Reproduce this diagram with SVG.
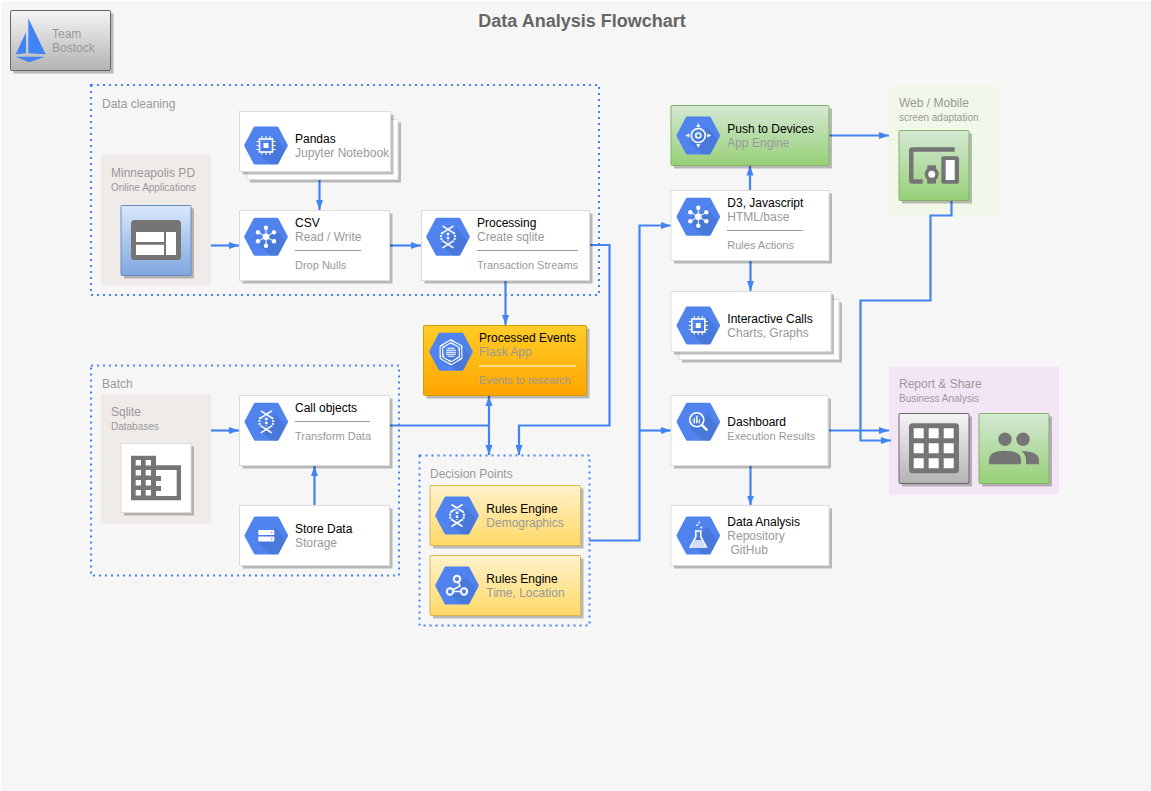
<svg xmlns="http://www.w3.org/2000/svg" width="1151" height="791" viewBox="0 0 1151 791">
<style>
text{font-family:"Liberation Sans",Arial,sans-serif;font-size:12px;fill:#999}
.t{fill:#000}
.s{font-size:11px}
.m{font-size:10px}
.ttl{font-size:18px;font-weight:bold;fill:#666}
.card{fill:#fff;stroke:#ddd;stroke-width:1}
.shadow{fill:#000;opacity:.25;stroke:none}
.zone{fill:none;stroke:#4284f3;stroke-width:2;stroke-dasharray:2 4}
.conn{fill:none;stroke:#4284f3;stroke-width:2.200}
.arrow{marker-end:url(#ah)}
.rule{stroke:#999;stroke-width:1}
.ic{fill:#757575}
.w{fill:#fff}
.wl{fill:none;stroke:#fff;stroke-width:1.6}
</style>
<defs>
<linearGradient id="gGrey" x1="0" y1="0" x2="0" y2="1"><stop offset="0" stop-color="#f5f5f5"/><stop offset="1" stop-color="#b3b3b3"/></linearGradient>
<linearGradient id="gBlue" x1="0" y1="0" x2="0" y2="1"><stop offset="0" stop-color="#dae8fc"/><stop offset="1" stop-color="#7ea6e0"/></linearGradient>
<linearGradient id="gGreen" x1="0" y1="0" x2="0" y2="1"><stop offset="0" stop-color="#d5e8d4"/><stop offset="1" stop-color="#97d077"/></linearGradient>
<linearGradient id="gYellow" x1="0" y1="0" x2="0" y2="1"><stop offset="0" stop-color="#fff2cc"/><stop offset="1" stop-color="#ffd966"/></linearGradient>
<linearGradient id="gOrange" x1="0" y1="0" x2="0" y2="1"><stop offset="0" stop-color="#ffcd28"/><stop offset="1" stop-color="#ffa500"/></linearGradient>
<marker id="ah" markerUnits="userSpaceOnUse" markerWidth="11" markerHeight="8" refX="10" refY="4" orient="auto"><path d="M0 0.500L10 4L0 7.500Z" fill="#4284f3"/></marker>
<g id="hex">
<path d="M11 0.500H33Q34 0.500 34.500 1.500L43.500 18.500Q44 19.500 43.500 20.500L34.500 37.500Q34 38.500 33 38.500H11Q10 38.500 9.500 37.500L0.500 20.500Q0 19.500 0.500 18.500L9.500 1.500Q10 0.500 11 0.500Z" fill="#5083ee"/>
<path d="M31 11L41.300 23.500L34.500 37.500Q34 38.500 33 38.500H27L14 27Z" fill="#000" opacity=".08"/>
</g>
<g id="chip"><rect x="15.500" y="13" width="13" height="13" class="wl"/><rect x="19.500" y="17" width="5" height="5" class="w"/><path d="M18 10v3M22 10v3M26 10v3M18 26v3M22 26v3M26 26v3M12.500 15.500h3M12.500 19.500h3M12.500 23.500h3M28.500 15.500h3M28.500 19.500h3M28.500 23.500h3" stroke="#fff" stroke-width="1"/></g>
<g id="hub"><path d="M22 19.500L22 10M22 19.500L14 15M22 19.500L30 15M22 19.500L14 24M22 19.500L30 24M22 19.500V29" stroke="#fff" stroke-width="1"/><circle cx="22" cy="19.500" r="3.300" class="w"/><circle cx="22" cy="10.500" r="2.200" class="w"/><circle cx="14" cy="15" r="2.200" class="w"/><circle cx="30" cy="15" r="2.200" class="w"/><circle cx="14" cy="24" r="2.200" class="w"/><circle cx="30" cy="24" r="2.200" class="w"/><circle cx="22" cy="28.500" r="2.200" class="w"/></g>
<g id="flow"><path d="M16.500 8.500L27.500 15.500M27.500 8.500L16.500 15.500M16.500 30.500L27.500 23.500M27.500 30.500L16.500 23.500" class="wl" stroke-width="1.800"/><path d="M16.500 15Q13.500 19.500 16.500 24M27.500 15Q30.500 19.500 27.500 24" fill="none" stroke="#fff" stroke-width="2" stroke-dasharray="2 1"/><path d="M22 15.500V24" stroke="#fff" stroke-width="2.400" stroke-dasharray="2.400 1.600"/></g>
<path id="blade" d="M22 7.500L32.500 13.500V17M22 10.500L30 15V18" fill="none" stroke="#fff" stroke-width="1.100"/>
</defs>

<rect x="0" y="0" width="1151" height="791" fill="#fff"/>
<rect x="1" y="1" width="1150" height="790" fill="#f6f6f6"/>
<text class="ttl" x="582" y="27" text-anchor="middle">Data Analysis Flowchart</text>

<g id="logo">
<rect x="13.500" y="13.500" width="100" height="60" class="shadow"/>
<rect x="10.500" y="10.500" width="100" height="60" rx="1.500" fill="url(#gGrey)" stroke="#666"/>
<path d="M28.300 18.300L45.700 54.300L28.300 53.300ZM26 32.300V53.300L15.700 54.300ZM15.700 56.700H45L29.300 62.300Z" fill="#4284f3"/>
<text x="52" y="38">Team</text><text x="52" y="52">Bostock</text>
</g>

<g id="zone-cleaning"><rect x="91" y="85" width="508" height="210" class="zone"/><text x="102" y="108">Data cleaning</text></g>
<g id="zone-batch"><rect x="91" y="365.500" width="308" height="210" class="zone"/><text x="102" y="388">Batch</text></g>
<g id="zone-decision"><rect x="419.500" y="455.500" width="170" height="170" class="zone"/><text x="430" y="478">Decision Points</text></g>

<g id="panel-minneapolis"><rect x="101" y="155" width="110" height="130" rx="1" fill="#efebe9"/><text x="111" y="177">Minneapolis PD</text><text class="m" x="111" y="191">Online Applications</text></g>
<g id="panel-sqlite"><rect x="101" y="394" width="110" height="130" rx="1" fill="#efebe9"/><text x="111" y="416">Sqlite</text><text class="m" x="111" y="430">Databases</text></g>
<g id="panel-web"><rect x="889" y="85" width="110" height="130.500" rx="1" fill="#f1f8e9"/><text x="899" y="107">Web / Mobile</text><text class="m" x="899" y="121">screen adaptation</text></g>
<g id="panel-report"><rect x="889" y="366.500" width="170" height="128" rx="1" fill="#f3e5f5"/><text x="899" y="388">Report &amp; Share</text><text class="m" x="899" y="402">Business Analysis</text></g>

<g id="connectors">
<path class="conn arrow" d="M319.500 180V210"/>
<path class="conn arrow" d="M211 245.500H239"/>
<path class="conn arrow" d="M390 245.500H421"/>
<path class="conn arrow" d="M505.500 281V325"/>
<path class="conn arrow" d="M589 245H609.500V425.500H519V455"/>
<path class="conn" d="M390 425.500H489"/>
<path class="conn arrow" d="M489 425.500V396"/>
<path class="conn arrow" d="M489 425.500V455"/>
<path class="conn arrow" d="M211 430.500H239"/>
<path class="conn arrow" d="M314.500 505.500V466"/>
<path class="conn arrow" d="M589 540.500H639.500V225.500H671"/>
<path class="conn arrow" d="M639.500 430.500H671"/>
<path class="conn arrow" d="M750 190.500V165.500"/>
<path class="conn arrow" d="M750.500 261V291"/>
<path class="conn arrow" d="M750.500 466V505.500"/>
<path class="conn arrow" d="M829 430.500H889"/>
<path class="conn arrow" d="M829 135.500H889"/>
<path class="conn arrow" d="M951.500 201V215.500H930.500V300.500H860.500V440.500H891"/>
</g>

<g id="node-pandas">
<rect x="250" y="122.500" width="151" height="60" class="shadow"/>
<rect x="247" y="119.500" width="151" height="60" class="card"/>
<rect x="242.500" y="114.500" width="151" height="60" class="shadow"/>
<rect x="239.500" y="111.500" width="151" height="60" class="card"/>
<use href="#hex" x="244" y="126"/><use href="#chip" x="244" y="126"/>
<text class="t" x="295" y="143">Pandas</text><text x="295" y="157">Jupyter Notebook</text>
</g>

<g id="node-csv">
<rect x="242.500" y="213.500" width="150" height="70" class="shadow"/>
<rect x="239.500" y="210.500" width="150" height="70" class="card"/>
<use href="#hex" x="244" y="217.300"/><use href="#hub" x="244" y="217.300"/>
<text class="t" x="295" y="227">CSV</text><text x="295" y="241">Read / Write</text>
<path class="rule" d="M295 250.500H361"/><text class="s" x="295" y="269">Drop Nulls</text>
</g>

<g id="node-processing">
<rect x="424.500" y="213.500" width="168" height="70" class="shadow"/>
<rect x="421.500" y="210.500" width="168" height="70" class="card"/>
<use href="#hex" x="426" y="217.300"/><use href="#flow" x="426" y="217.300"/>
<text class="t" x="477" y="227">Processing</text><text x="477" y="241">Create sqlite</text>
<path class="rule" d="M477 250.500H578"/><text class="s" x="477" y="269">Transaction Streams</text>
</g>

<g id="node-events">
<rect x="426.500" y="328.500" width="163" height="70" class="shadow"/>
<rect x="423.500" y="325.500" width="163" height="70" rx="1" fill="url(#gOrange)" stroke="#d79b00"/>
<use href="#hex" x="429" y="332.300"/>
<g transform="translate(429 332.300)">
<use href="#blade"/><use href="#blade" transform="rotate(60 22 20)"/><use href="#blade" transform="rotate(120 22 20)"/><use href="#blade" transform="rotate(180 22 20)"/><use href="#blade" transform="rotate(240 22 20)"/><use href="#blade" transform="rotate(300 22 20)"/>
<path d="M18.500 16H25.500M17 18H27M17 20H27M17 22H27M18.500 24H25.500" stroke="#fff" stroke-width="1.100"/>
</g>
<text class="t" x="479" y="342">Processed Events</text><text x="479" y="356">Flask App</text>
<path d="M479 366H576" stroke="#fff" stroke-width="1"/><text class="s" x="479" y="384">Events to research</text>
</g>

<g id="node-push">
<rect x="674" y="108.500" width="158" height="60" class="shadow"/>
<rect x="671" y="105.500" width="158" height="60" rx="1" fill="url(#gGreen)" stroke="#82b366"/>
<use href="#hex" x="676.300" y="116"/>
<g transform="translate(676.300 116)"><circle cx="22" cy="19.500" r="7" class="wl"/><circle cx="22" cy="19.500" r="2.500" class="wl"/><path d="M22 7L24 11H20ZM22 32L20 28H24ZM9 19.500L13 17.500V21.500ZM35 19.500L31 21.500V17.500Z" class="w"/></g>
<text class="t" x="727.300" y="133">Push to Devices</text><text x="727.300" y="147">App Engine</text>
</g>

<g id="node-d3">
<rect x="674" y="193.500" width="158" height="70" class="shadow"/>
<rect x="671" y="190.500" width="158" height="70" class="card"/>
<use href="#hex" x="676.300" y="197.300"/><use href="#hub" x="676.300" y="197.300"/>
<text class="t" x="727.300" y="207">D3, Javascript</text><text x="727.300" y="221">HTML/base</text>
<path class="rule" d="M727 230.500H803"/><text class="s" x="727.300" y="249">Rules Actions</text>
</g>

<g id="node-interactive">
<rect x="682" y="302.500" width="160" height="60" class="shadow"/>
<rect x="679" y="299.500" width="160" height="60" class="card"/>
<rect x="674" y="294.500" width="160" height="60" class="shadow"/>
<rect x="671" y="291.500" width="160" height="60" class="card"/>
<use href="#hex" x="676.300" y="306"/><use href="#chip" x="676.300" y="306"/>
<text class="t" x="727.300" y="323">Interactive Calls</text><text x="727.300" y="337">Charts, Graphs</text>
</g>

<g id="node-dashboard">
<rect x="674" y="398.500" width="157" height="70" class="shadow"/>
<rect x="671" y="395.500" width="157" height="70" class="card"/>
<use href="#hex" x="676.300" y="402.300"/>
<g transform="translate(676.300 402.300)"><circle cx="20.500" cy="17.500" r="7" class="wl"/><path d="M25.500 22.500L31 28" stroke="#fff" stroke-width="2.400"/><path d="M18 16v5M20.500 13.500v7.500M23 17.500v3.500" stroke="#fff" stroke-width="1.400"/></g>
<text class="t" x="727.300" y="426">Dashboard</text><text class="s" x="727.300" y="440">Execution Results</text>
</g>

<g id="node-analysis">
<rect x="674" y="508.500" width="158" height="60" class="shadow"/>
<rect x="671" y="505.500" width="158" height="60" class="card"/>
<use href="#hex" x="676.300" y="516"/>
<g transform="translate(676.300 516)"><path d="M19.500 15V21L14 31H30L24.500 21V15Z" class="wl" stroke-width="1.400"/><path d="M15.500 30L19 24H25L28.500 30Z" class="w" opacity=".75"/><circle cx="21" cy="9" r="1.100" class="w"/><circle cx="25" cy="11.500" r="1" class="w"/><circle cx="23" cy="6.500" r=".9" class="w"/></g>
<text class="t" x="727.300" y="526">Data Analysis</text><text x="727.300" y="540">Repository</text><text x="730.500" y="554">GitHub</text>
</g>

<g id="node-call">
<rect x="242.500" y="398.500" width="150" height="70" class="shadow"/>
<rect x="239.500" y="395.500" width="150" height="70" class="card"/>
<use href="#hex" x="244.300" y="402.300"/><use href="#flow" x="244.300" y="402.300"/>
<text class="t" x="295" y="412">Call objects</text>
<path class="rule" d="M295 421.500H370"/><text class="s" x="295" y="440">Transform Data</text>
</g>

<g id="node-store">
<rect x="242.500" y="508.500" width="150" height="60" class="shadow"/>
<rect x="239.500" y="505.500" width="150" height="60" class="card"/>
<use href="#hex" x="244.300" y="516"/>
<g transform="translate(244.300 516)"><rect x="14" y="14" width="16" height="5" rx=".8" class="w"/><rect x="14" y="20.500" width="16" height="5" rx=".8" class="w"/><circle cx="27.500" cy="16.500" r=".8" fill="#5083ee"/><circle cx="27.500" cy="23" r=".8" fill="#5083ee"/></g>
<text class="t" x="295" y="533">Store Data</text><text x="295" y="547">Storage</text>
</g>

<g id="node-rules1">
<rect x="433" y="488.500" width="150.500" height="60" class="shadow"/>
<rect x="430" y="485.500" width="150.500" height="60" rx="1" fill="url(#gYellow)" stroke="#d6b656"/>
<use href="#hex" x="435" y="496"/><use href="#flow" x="435" y="496"/>
<text class="t" x="486.300" y="513">Rules Engine</text><text x="486.300" y="527">Demographics</text>
</g>

<g id="node-rules2">
<rect x="433" y="558.500" width="150.500" height="60" class="shadow"/>
<rect x="430" y="555.500" width="150.500" height="60" rx="1" fill="url(#gYellow)" stroke="#d6b656"/>
<use href="#hex" x="435" y="566"/>
<g transform="translate(435 566)"><path d="M22 13L25 20L15 25.500H29" class="wl" stroke-width="2"/><circle cx="22" cy="13" r="3.200" fill="#5083ee" stroke="#fff" stroke-width="2"/><circle cx="15" cy="25.500" r="3.200" fill="#5083ee" stroke="#fff" stroke-width="2"/><circle cx="29" cy="25.500" r="3.200" fill="#5083ee" stroke="#fff" stroke-width="2"/></g>
<text class="t" x="486.300" y="583">Rules Engine</text><text x="486.300" y="597">Time, Location</text>
</g>

<g id="icon-window">
<rect x="124" y="208.500" width="70" height="70" class="shadow"/>
<rect x="121" y="205.500" width="70" height="70" rx="1" fill="url(#gBlue)" stroke="#6c8ebf"/>
<rect x="131" y="220" width="50" height="40" rx="3.500" class="ic"/>
<path class="w" d="M136 232H164V242H136ZM136 244.700H164V255H136ZM166 232H176V255H166Z"/>
</g>

<g id="icon-building">
<rect x="124" y="446.500" width="70" height="69" class="shadow"/>
<rect x="121" y="443.500" width="70" height="69" class="card"/>
<path class="ic" d="M131 455.700H156V465.300H181V500.300H131Z"/>
<path class="w" d="M156 470H176.700V496H156V491H161V486H156V481H161V476H156Z"/>
<path class="w" d="M135.700 460h5.300v5.500h-5.300zM145.700 460h5.300v5.500h-5.300zM135.700 470h5.300v5.500h-5.300zM145.700 470h5.300v5.500h-5.300zM135.700 480h5.300v5.500h-5.300zM145.700 480h5.300v5.500h-5.300zM135.700 490h5.300v5.500h-5.300zM145.700 490h5.300v5.500h-5.300z"/>
</g>

<g id="icon-devices">
<rect x="902" y="133.500" width="70" height="70" class="shadow"/>
<rect x="899" y="130.500" width="70" height="70" rx="1" fill="url(#gGreen)" stroke="#82b366"/>
<path class="ic" d="M912 147.300H954.700V151.800H913.500V179.200H922.700V183.700H912Q909 183.700 909 180.700V150.300Q909 147.300 912 147.300Z"/>
<rect x="927.300" y="165.300" width="8.700" height="18.400" class="ic"/><circle cx="931.700" cy="174.300" r="7" class="ic"/><circle cx="931.700" cy="174.300" r="3.500" class="w"/>
<rect x="941.300" y="156.300" width="17.700" height="27.400" rx="2" class="ic"/><rect x="945.700" y="160" width="9" height="20" class="w"/>
</g>

<g id="icon-grid">
<rect x="902" y="416.500" width="70" height="70" class="shadow"/>
<rect x="899" y="413.500" width="70" height="70" rx="1" fill="url(#gGrey)" stroke="#666"/>
<rect x="909" y="423.300" width="50" height="50" rx="3.500" class="ic"/>
<path class="w" d="M913.700 428.300h10v10h-10zM928.700 428.300h10v10h-10zM943.700 428.300h10v10h-10zM913.700 443.300h10v10h-10zM928.700 443.300h10v10h-10zM943.700 443.300h10v10h-10zM913.700 458.300h10v10h-10zM928.700 458.300h10v10h-10zM943.700 458.300h10v10h-10z"/>
</g>

<g id="icon-people">
<rect x="982" y="416.500" width="70" height="70" class="shadow"/>
<rect x="979" y="413.500" width="70" height="70" rx="1" fill="url(#gGreen)" stroke="#82b366"/>
<circle cx="1005" cy="439.300" r="6.700" class="ic"/><circle cx="1023" cy="439.300" r="6.700" class="ic"/>
<path class="ic" d="M989 464.300V460Q989 450.700 1005 450.700T1021 460V464.300Z"/>
<path class="ic" d="M1021.700 451Q1039 451.500 1039 460V464.300H1026V460Q1026 455 1021.700 451Z"/>
</g>
</svg>
